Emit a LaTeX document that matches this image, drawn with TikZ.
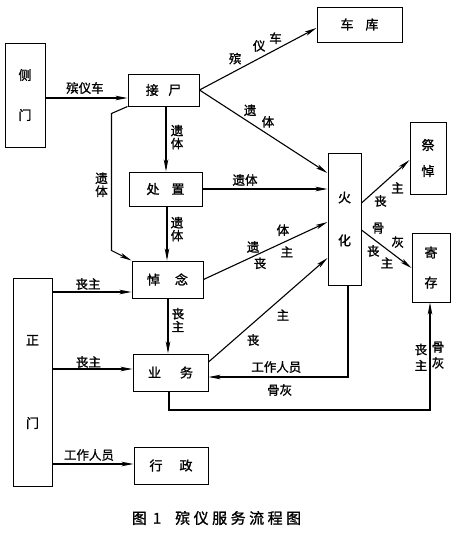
\documentclass[tikz,border=0pt]{standalone}
\usepackage{fontspec}
\setmainfont{Noto Sans CJK SC}[FakeBold=1.2]
\usetikzlibrary{arrows.meta}

\def\cgap{\hspace{3.5pt}}

\begin{document}
\begin{tikzpicture}[x=1pt, y=-1pt,
	box/.style={draw, line width=1pt, inner sep=0pt, align=center, font=\fontsize{13}{13}\selectfont},
	lbl/.style={inner sep=0pt, align=center, font=\fontsize{12.5}{13}\selectfont},
	arr/.style={line width=1.1pt, -{Stealth[length=12pt,width=4.5pt,inset=3pt]}}]
	\useasboundingbox (0,0) rectangle (454,539);

	\node[box, minimum width=40, minimum height=104] (cemen) at (25,95) {侧\\[27pt]门};
	\node[box, minimum width=71, minimum height=32] (jieshi) at (163.5,90) {接\hspace{9.5pt}尸};
	\node[box, minimum width=85, minimum height=35] (cheku) at (359.5,24.5) {车\hspace{12pt}库};
	\node[box, minimum width=73, minimum height=34] (chuzhi) at (165.5,189) {处\hspace{12pt}置};
	\node[box, minimum width=33, minimum height=132] (huohua) at (344.5,219) {火\\[30pt]化};
	\node[box, minimum width=36, minimum height=72] (jidao) at (428,158) {祭\\[13pt]悼};
	\node[box, minimum width=38, minimum height=69] (jicun) at (431,267.5) {寄\\[17pt]存};
	\node[box, minimum width=71, minimum height=37] (daonian) at (167.5,279.5) {悼\hspace{15pt}念};
	\node[box, minimum width=39, minimum height=208] (zhengmen) at (32.5,382) {正\\[70pt]门};
	\node[box, minimum width=75, minimum height=37] (yewu) at (170.5,372.5) {业\hspace{19pt}务};
	\node[box, minimum width=74, minimum height=37] (xingzheng) at (171,465.5) {行\hspace{17pt}政};

	\draw[arr] (cemen.east |- 0,98) -- (jieshi.west |- 0,98) node[lbl, pos=.48, yshift=10pt] {殡仪车};
	\draw[arr] (jieshi.east) -- (cheku.west |- 0,28)
		node[lbl, pos=.305, yshift=12.5pt] {殡}
		node[lbl, pos=.51, yshift=12.5pt] {仪}
		node[lbl, pos=.65, yshift=11.5pt] {车};
	\draw[arr] (jieshi.east) -- (huohua.west |- 0,173)
		node[lbl, pos=.395, yshift=12.5pt] {遗}
		node[lbl, pos=.535, yshift=12.5pt] {体};
	\draw[arr] (166,0 |- jieshi.south) -- (166,0 |- chuzhi.north) node[lbl, pos=.47, xshift=11pt] {遗\\体};
	\draw[arr] (jieshi.south west) -- ++(-16,7) -- ++(0,137) node[lbl, pos=.52, xshift=-10pt] {遗\\体}
		-- (daonian.north west);
	\draw[arr] (chuzhi.east) -- (huohua.west |- chuzhi.east) node[lbl, pos=.34, yshift=9pt] {遗体};
	\draw[arr] (167,0 |- chuzhi.south) -- (167,0 |- daonian.north) node[lbl, pos=.42, xshift=10pt] {遗\\体};
	\draw[arr] (daonian.east) -- (huohua.west |- 0,222)
		node[lbl, pos=.4, yshift=9.5pt] {遗}
		node[lbl, pos=.64, yshift=12.5pt] {体}
		node[lbl, pos=.456, yshift=-10pt] {丧}
		node[lbl, pos=.672, yshift=-11pt] {主};
	\draw[arr] (168,0 |- daonian.south) -- (168,0 |- yewu.north) node[lbl, pos=.39, xshift=10pt] {丧\\主};
	\draw[arr] (yewu.east |- 0,362) -- (huohua.west |- 0,258)
		node[lbl, pos=.375, yshift=-17pt] {丧}
		node[lbl, pos=.625, yshift=-18pt] {主};
	\draw[arr] (348,0 |- huohua.south) |- (yewu.east |- 0,377)
		node[lbl, pos=.757, yshift=10pt] {工作人员}
		node[lbl, pos=.745, yshift=-13pt] {骨灰};
	\draw[arr] (huohua.east |- 0,203) -- (jidao.west |- 0,160)
		node[lbl, pos=.396, yshift=-15pt] {丧}
		node[lbl, pos=.75, yshift=-17pt] {主};
	\draw[arr] (huohua.east |- 0,230) -- (jicun.west |- 0,268)
		node[lbl, pos=.333, yshift=14.5pt] {骨}
		node[lbl, pos=.725, yshift=15.5pt] {灰}
		node[lbl, pos=.235, yshift=-12pt] {丧}
		node[lbl, pos=.51, yshift=-13.5pt] {主};
	\draw[arr] (169,0 |- yewu.south) -- (169,410) -| (430,0 |- jicun.south)
		node[lbl, pos=.745, xshift=-9pt] {丧\\[3pt]主}
		node[lbl, pos=.755, xshift=8pt] {骨\\[3pt]灰};

	\foreach \y/\n/\txt/\up in {292/daonian/丧主/8, 369/yewu/丧主/7, 464/xingzheng/工作人员/9}
		\draw[arr] (zhengmen.east |- 0,\y) -- (\n.west |- 0,\y) node[lbl, pos=.45, yshift=\up pt] {\txt};

	\node[font=\fontsize{15}{15}\selectfont] (caption) at (216.5,518)
		{图\hspace{6pt}1\hspace{14pt}殡\cgap 仪\cgap 服\cgap 务\cgap 流\cgap 程\cgap 图};
\end{tikzpicture}
\end{document}
